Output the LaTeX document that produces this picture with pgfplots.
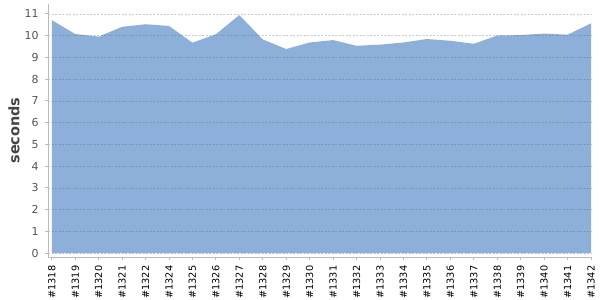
\documentclass[border=0pt]{standalone}
\usepackage{fontspec}
\setmainfont{DejaVu Sans}
\usepackage{pgfplots}
\pgfplotsset{compat=1.18}
\usepgfplotslibrary{fillbetween}
\definecolor{areafill}{HTML}{8DB0DA}
\definecolor{axisgray}{HTML}{BBBBBB}
\definecolor{ticktext}{HTML}{555555}
\definecolor{labeltext}{HTML}{444444}
\begin{document}
\begin{tikzpicture}
\begin{axis}[
  scale only axis,
  width=543bp, height=253bp,
  xmin=-0.16, xmax=23, ymin=-0.18, ymax=11.45,
  axis x line*=bottom, axis y line*=left,
  axis line style={axisgray, line width=0.8bp, -},
  xtick=data,
  xticklabels={\#1318,\#1319,\#1320,\#1321,\#1322,\#1324,\#1325,\#1326,\#1327,\#1328,\#1329,\#1330,\#1331,\#1332,\#1333,\#1334,\#1335,\#1336,\#1337,\#1338,\#1339,\#1340,\#1341,\#1342},
  x tick label style={rotate=90, anchor=east, font=\fontsize{9.8}{10}\selectfont, text=black, inner sep=0bp, xshift=-5.5bp},
  tick style={axisgray, line width=0.8bp},
  tick align=outside,
  major tick length=3bp,
  ytick={0,1,...,11},
  y tick label style={font=\fontsize{11}{12}\selectfont, text=ticktext, xshift=-3bp},
  ymajorgrids,
  major grid style={draw=black!60, opacity=0.35, dash pattern=on 2bp off 1.5bp, line width=0.5bp},
  ylabel={seconds},
  ylabel style={font=\bfseries\fontsize{14.5}{16}\selectfont, text=labeltext, yshift=-2bp},
  axis on top,
  /pgf/number format/assume math mode=true,
]
\coordinate (o) at (rel axis cs:0,0);
\coordinate (t) at (rel axis cs:1,1);
\addplot[draw=none, name path=top] table[x=x, y=y] {
x y
0 10.71
1 10.07
2 9.95
3 10.40
4 10.52
5 10.44
6 9.67
7 10.06
8 10.94
9 9.82
10 9.38
11 9.68
12 9.79
13 9.53
14 9.58
15 9.68
16 9.84
17 9.76
18 9.62
19 10.00
20 10.02
21 10.09
22 10.04
23 10.56
};
\addplot[draw=none, name path=zero] coordinates {(0,0) (23,0)};
\addplot[fill=areafill, draw=none] fill between[of=top and zero];
\end{axis}
\pgfresetboundingbox
\path ([xshift=-48bp, yshift=-43bp]o) rectangle ([xshift=9bp, yshift=4bp]t);
\end{tikzpicture}
\end{document}
